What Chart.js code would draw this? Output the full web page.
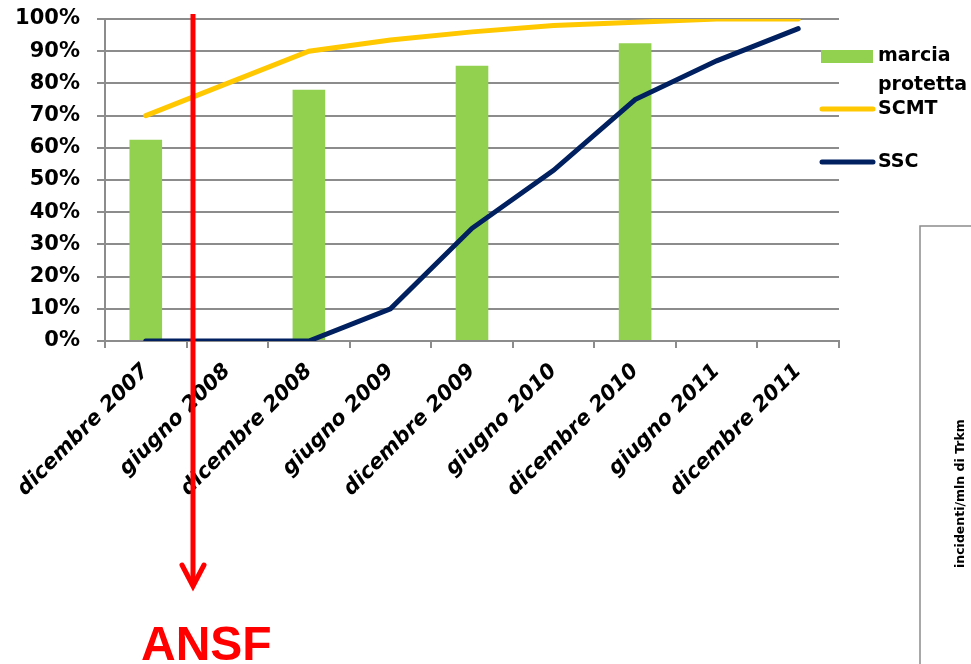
<!DOCTYPE html>
<html>
<head>
<meta charset="utf-8">
<script src="https://cdn.jsdelivr.net/npm/chart.js@4/dist/chart.umd.min.js"></script>
<style>
  html, body { margin: 0; padding: 0; background: #fff; }
  #chart { display: block; }
</style>
</head>
<body>
<canvas id="chart" width="971" height="664"></canvas>
<script>
const periods = [
  "dicembre 2007", "giugno 2008", "dicembre 2008", "giugno 2009", "dicembre 2009",
  "giugno 2010", "dicembre 2010", "giugno 2011", "dicembre 2011",
];
const marciaProtetta = [62.5, null, 78, null, 85.5, null, 92.5, null, null];
const scmt = [70, 80, 90, 93.5, 96, 98, 99, 100, 100];
const ssc = [0, 0, 0, 10, 35, 53, 75, 87, 97];
const yTicks = [0, 10, 20, 30, 40, 50, 60, 70, 80, 90, 100];

const font = "'DejaVu Sans', 'Noto Sans', sans-serif";
const gridGray = "#8c8c8c";

// legend, side box and ANSF arrow on top of the chart
const overlay = {
  id: "overlay",
  afterDraw(chart) {
    const ctx = chart.ctx;
    const ds = chart.data.datasets;
    ctx.save();

    // legend
    ctx.textBaseline = "middle";
    ctx.fillStyle = ds[0].backgroundColor;
    ctx.fillRect(821, 50, 52, 13);
    ctx.fillStyle = "#000";
    ctx.font = "bold 19px " + font;
    ctx.fillText("marcia", 878, 56);
    ctx.fillText("protetta", 878, 85);
    ctx.lineCap = "round";
    ctx.lineWidth = 5;
    ctx.strokeStyle = ds[1].borderColor;
    ctx.beginPath(); ctx.moveTo(822, 109); ctx.lineTo(873, 109); ctx.stroke();
    ctx.fillText(ds[1].label, 878, 109);
    ctx.strokeStyle = ds[2].borderColor;
    ctx.beginPath(); ctx.moveTo(822, 162); ctx.lineTo(873, 162); ctx.stroke();
    ctx.fillText(ds[2].label, 878, 162);

    // side box with rotated axis title
    ctx.lineWidth = 1.5;
    ctx.strokeStyle = "#8c8c8c";
    ctx.strokeRect(920, 226, 80, 500);
    ctx.save();
    ctx.translate(961, 568);
    ctx.rotate(-Math.PI / 2);
    ctx.font = "bold 12.5px " + font;
    ctx.fillStyle = "#000";
    ctx.textAlign = "left";
    ctx.fillText("incidenti/mln di Trkm", 0, 0);
    ctx.restore();

    // red arrow + ANSF
    ctx.strokeStyle = "#ff0000";
    ctx.lineWidth = 5;
    ctx.lineCap = "butt";
    ctx.beginPath(); ctx.moveTo(193, 14); ctx.lineTo(193, 584); ctx.stroke();
    ctx.lineCap = "round";
    ctx.beginPath(); ctx.moveTo(182, 565); ctx.lineTo(193, 586); ctx.lineTo(204, 565); ctx.stroke();
    ctx.fillStyle = "#ff0000";
    ctx.font = "bold 48px 'Liberation Sans', Arial, sans-serif";
    ctx.textBaseline = "alphabetic";
    ctx.fillText("ANSF", 141, 660);
    ctx.restore();
  },
};

new Chart(document.getElementById("chart"), {
  type: "bar",
  data: {
    labels: periods,
    datasets: [
      {
        label: "marcia protetta",
        data: marciaProtetta,
        backgroundColor: "#92d050",
        barPercentage: 0.8,
        categoryPercentage: 0.5,
        order: 3,
      },
      {
        type: "line",
        label: "SCMT",
        data: scmt,
        borderColor: "#ffc800",
        borderWidth: 5,
        borderCapStyle: "round",
        pointRadius: 0,
        tension: 0,
        order: 2,
      },
      {
        type: "line",
        label: "SSC",
        data: ssc,
        borderColor: "#002060",
        borderWidth: 5,
        borderCapStyle: "round",
        pointRadius: 0,
        tension: 0,
        order: 1,
      },
    ],
  },
  options: {
    responsive: false,
    animation: false,
    layout: {
      padding: { left: 0, top: 19, right: 132, bottom: 0 },
    },
    plugins: {
      legend: { display: false },
      tooltip: { enabled: false },
    },
    scales: {
      x: {
        offset: true,
        grid: {
          offset: true,
          drawOnChartArea: false,
          drawTicks: true,
          tickLength: 7,
          color: gridGray,
          lineWidth: 2,
        },
        border: { color: gridGray, width: 2 },
        ticks: {
          autoSkip: false,
          minRotation: 45,
          maxRotation: 45,
          padding: 11,
          color: "#000",
          font: { family: font, size: 21, weight: "bold", style: "italic" },
        },
        afterFit(scale) {
          scale.height = 323;
        },
      },
      y: {
        min: 0,
        max: 100,
        afterBuildTicks(scale) {
          scale.ticks = yTicks.map((v) => ({ value: v }));
        },
        grid: {
          color: gridGray,
          lineWidth: 2,
          tickLength: 8,
        },
        border: { color: gridGray, width: 2 },
        ticks: {
          padding: 17,
          color: "#000",
          font: { family: font, size: 21, weight: "bold" },
          callback: (v) => v + "%",
        },
        afterFit(scale) {
          scale.width = 105;
          scale.paddingTop = 0;
          scale.paddingBottom = 0;
        },
      },
    },
  },
  plugins: [overlay],
});
</script>
</body>
</html>
